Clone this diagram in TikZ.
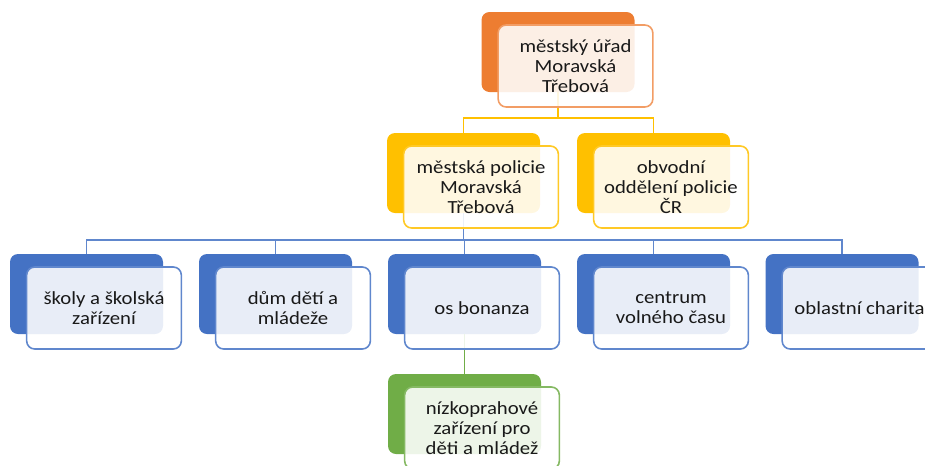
\documentclass[tikz,border=0pt]{standalone}
\usepackage{fontspec}
\setmainfont{Carlito}[FakeStretch=1.12]
\usetikzlibrary{positioning}
\definecolor{orgA}{HTML}{ED7D31}
\definecolor{goldA}{HTML}{FFC000}
\definecolor{blueA}{HTML}{4472C4}
\definecolor{greenA}{HTML}{70AD47}

\begin{document}
\begin{tikzpicture}[x=0.75pt,y=-0.75pt]
  \tikzset{backbox/.style = {shape=rectangle,rounded corners=6pt,minimum width=114.75pt,minimum height=60pt,inner sep=0pt}}
  \tikzset{frontbox/.style = {shape=rectangle,rounded corners=6pt,draw,line width=1.2pt,fill=white,fill opacity=0.88,text opacity=1,minimum width=116pt,minimum height=61.5pt,inner sep=0pt,align=center,text=black!90,font=\fontsize{13.9pt}{15pt}\selectfont}}
  \tikzset{link/.style = {line width=1.4pt}}

  \useasboundingbox (0,0) rectangle (925,465);

  % back boxes
  \node[backbox,fill=orgA] (urad-b) at (558,52) {};
  \node[backbox,fill=goldA] (mp-b) at (463.5,173) {};
  \node[backbox,fill=goldA] (ood-b) at (653.5,173) {};
  \foreach \name/\x in {skoly/86.5,ddm/275.5,bonanza/464.5,cvc/653.5,charita/842}
    \node[backbox,fill=blueA] (\name-b) at (\x,294) {};
  \node[backbox,fill=greenA] (nzz-b) at (464.5,414) {};

  % connectors
  \coordinate (j1) at (558,118);
  \coordinate (j2) at (463.5,240);
  \draw[link,goldA] (urad-b.south) -- (j1);
  \draw[link,goldA] (mp-b.north) |- (j1) -| (ood-b.north);
  \draw[link,blueA!85!white] (mp-b.south) -- (j2);
  \draw[link,blueA!85!white] (skoly-b.north) |- (j2) -| (charita-b.north);
  \foreach \name in {ddm,bonanza,cvc}
    \draw[link,blueA!85!white] (j2 -| \name-b.north) -- (\name-b.north);
  \draw[link,greenA] (bonanza-b.south) -- (nzz-b.north);

  % front boxes
  \node[frontbox,draw=orgA!75!white] (urad) at (575.5,66) {městský úřad\\Moravská\\Třebová};
  \node[frontbox,draw=goldA!85!white] (mp) at (481,187) {městská policie\\Moravská\\Třebová};
  \node[frontbox,draw=goldA!85!white] (ood) at (671,187) {obvodní\\oddělení policie\\ČR};
  \node[frontbox,draw=blueA!85!white] (skoly) at (104,308) {školy a školská\\zařízení};
  \node[frontbox,draw=blueA!85!white] (ddm) at (293,308) {dům dětí a\\mládeže};
  \node[frontbox,draw=blueA!85!white] (bonanza) at (482,308) {os bonanza};
  \node[frontbox,draw=blueA!85!white] (cvc) at (671,308) {centrum\\volného času};
  \node[frontbox,draw=blueA!85!white] (charita) at (859.5,308) {oblastní charita};
  \node[frontbox,draw=greenA!85!white] (nzz) at (482,428) {nízkoprahové\\zařízení pro\\děti a mládež};

\end{tikzpicture}
\end{document}
